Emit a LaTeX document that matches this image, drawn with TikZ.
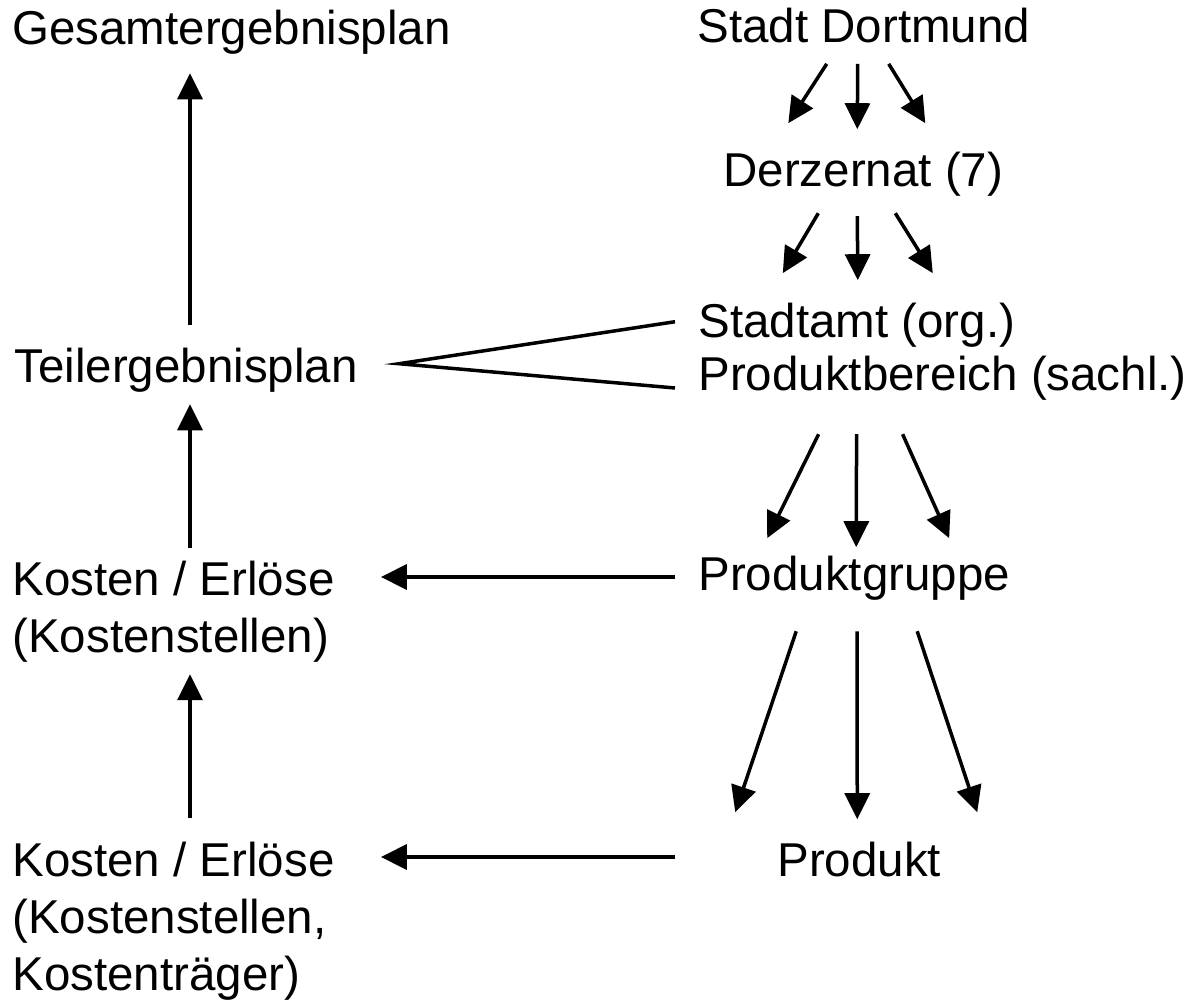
\documentclass[tikz,border=0pt]{standalone}
\usepackage{fontspec}
\setmainfont{Liberation Sans}
\usetikzlibrary{arrows.meta}

\begin{document}
\begin{tikzpicture}[x=0.5pt, y=-0.5pt,
        lbl/.style={anchor=base west, inner xsep=0pt, inner ysep=6pt, align=left,
                font=\fontsize{23.75}{28.5}\selectfont},
        arr/.style={line width=1.75pt, -{Triangle[length=13pt, width=12.5pt]}},
        bar/.style={line width=1.75pt}]

        \useasboundingbox (0, 0) rectangle (1189, 1000);

        % left column (multi-line nodes sit on their last line)
        \node[lbl] (gesamt) at (12, 45) {Gesamtergebnisplan};
        \node[lbl] (teil) at (14, 382) {Teilergebnisplan};
        \node[lbl] (kstelle) at (12, 652) {Kosten / Erlöse\\(Kostenstellen)};
        \node[lbl] (ktraeger) at (12, 990) {Kosten / Erlöse\\(Kostenstellen,\\Kostenträger)};
        \coordinate (col) at (190, 0);

        % right column
        \node[lbl] (stadt) at (697, 43) {Stadt Dortmund};
        \node[lbl] (dezernat) at (723, 187) {Derzernat (7)};
        \node[lbl] (amt) at (698, 337) {Stadtamt (org.)};
        \node[lbl] (bereich) at (698, 390) {Produktbereich (sachl.)};
        \node[lbl] (gruppe) at (698, 590) {Produktgruppe};
        \node[lbl] (produkt) at (777, 876) {Produkt};

        % fans
        \foreach \sx/\sy/\ex/\ey in {-37/8/-75/-17, -6/8/-6/-11, 25/8/62/-17}
        {
                \draw[arr] ([shift={(\sx,\sy)}]stadt.south) -- ([shift={(\ex,\ey)}]dezernat.north);
        }
        \foreach \sx/\sy/\ex/\ey in {-45/4/-74/-17, -6/7/1/-10, 32/4/76/-17}
        {
                \draw[arr] ([shift={(\sx,\sy)}]dezernat.south) -- ([shift={(\ex,\ey)}]amt.north);
        }
        \foreach \sx/\sy/\ex/\ey in {-124/22/-87/-5, -86/22/2/4, -40/22/95/-5}
        {
                \draw[arr] ([shift={(\sx,\sy)}]bereich.south) -- ([shift={(\ex,\ey)}]gruppe.north);
        }
        \foreach \sx/\sy/\ex/\ey in {-58/19/-124/-17, 3/19/-2/-10, 63/19/118/-17}
        {
                \draw[arr] ([shift={(\sx,\sy)}]gruppe.south) -- ([shift={(\ex,\ey)}]produkt.north);
        }

        % upward chain
        \draw[arr, shorten <=5pt, shorten >=3pt] (teil.north -| col) -- (gesamt.south -| col);
        \draw[arr] (kstelle.north -| col) -- (teil.south -| col);
        \draw[arr, shorten <=5.5pt] (ktraeger.north -| col) -- (kstelle.south -| col);

        % links across
        \draw[bar] ([shift={(-23,-3)}]amt.west) -- ([shift={(41,-6)}]teil.east) -- ([shift={(-23,-2)}]bereich.base west);
        \coordinate (grplink) at ([yshift=6.5pt]gruppe.base west);
        \draw[arr, shorten <=11.5pt, shorten >=23pt] (grplink) -- (kstelle.east |- grplink);
        \coordinate (prodlink) at ([yshift=9.5pt]produkt.base west);
        \draw[arr, shorten <=11.5pt, shorten >=23pt] (gruppe.west |- prodlink) -- (ktraeger.east |- prodlink);

\end{tikzpicture}
\end{document}
